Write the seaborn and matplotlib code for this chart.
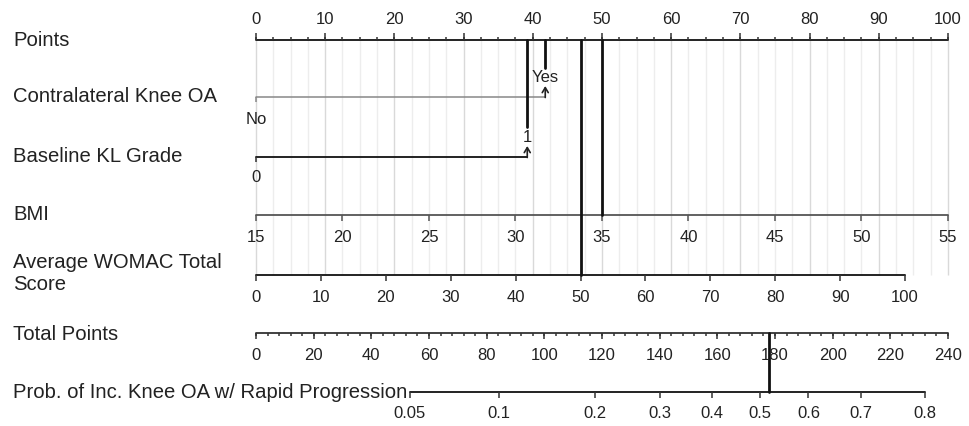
import numpy as np
import pandas as pd
import matplotlib
matplotlib.use("Agg")
import matplotlib.pyplot as plt
import seaborn as sns

# Nomogram values
points_ticks = [0, 10, 20, 30, 40, 50, 60, 70, 80, 90, 100]
contra_levels = ["No", "Yes"]
contra_points = [0, 41.8]
kl_levels = ["0", "1"]
kl_points = [0, 39.2]
bmi_ticks = [15, 20, 25, 30, 35, 40, 45, 50, 55]
bmi_range = [15, 55]          # maps onto 0..100 points
womac_ticks = [0, 10, 20, 30, 40, 50, 60, 70, 80, 90, 100]
womac_max_points = 93.8       # points given to WOMAC = 100
total_ticks = [0, 20, 40, 60, 80, 100, 120, 140, 160, 180, 200, 220, 240]
prob_ticks = [0.05, 0.1, 0.2, 0.3, 0.4, 0.5, 0.6, 0.7, 0.8]
prob_at_total = [53.4, 84.2, 117.7, 140.1, 158.0, 174.8, 191.6, 209.8, 232.0]

# the example patient
patient = {"contra": "Yes", "kl": "1", "bmi": 35, "womac": 50}

sns.set_theme(style="white")
plt.rcParams["font.family"] = ["Liberation Sans", "DejaVu Sans"]

TXT = "#222222"
LAB_FS = 14.6
TICK_FS = 12

fig = plt.figure(figsize=(9.7, 4.26), dpi=100)
ax = fig.add_axes([0, 0, 1, 1])
# x axis in "points" units, y in picture rows
ax.set_xlim(-256 / 6.92, (970 - 256) / 6.92)
ax.set_ylim(426, 0)
ax.set_axis_off()

rows = {"points": 40, "contra": 97, "kl": 157, "bmi": 215, "womac": 275, "total": 333, "prob": 392}


def bmi_to_pts(v):
    return (np.asarray(v, float) - bmi_range[0]) / (bmi_range[1] - bmi_range[0]) * 100


def womac_to_pts(v):
    return np.asarray(v, float) / 100 * womac_max_points


def total_to_x(v):
    return np.asarray(v, float) / 240 * 100


def scale_line(x0, x1, y, color="#333333", lw=1.3):
    sns.lineplot(x=[x0, x1], y=[y, y], ax=ax, color=color, lw=lw, estimator=None, sort=False)


def ticks(xs, y, length, up=False, color="#333333", lw=1.1):
    y2 = y - length if up else y + length
    ax.vlines(xs, y, y2, color=color, lw=lw)


# grid lines
grid = np.arange(0, 100.1, 2.5)
for g in grid:
    c = "#d9d9d9" if g % 10 == 0 else "#ededed"
    ax.vlines(g, rows["points"], rows["womac"], color=c, lw=1.0, zorder=0)

# Points
y = rows["points"]
scale_line(0, 100, y, color="#222222", lw=1.4)
ticks(grid, y, 3, up=True)
ticks(points_ticks, y, 7, up=True)
for t in points_ticks:
    ax.text(t, 19, str(t), ha="center", va="center", fontsize=TICK_FS, color=TXT)

arrow = dict(arrowstyle="->,head_length=0.3,head_width=0.18", color="#222222", lw=1.2,
             shrinkA=0, shrinkB=0)

# Contralateral knee OA
y = rows["contra"]
scale_line(contra_points[0], contra_points[1], y, color="#888888", lw=1.1)
ticks([contra_points[0]], y, 5, color="#888888")
ax.annotate("", xy=(contra_points[1], y - 11), xytext=(contra_points[1], y + 0.5), arrowprops=arrow)
ax.text(contra_points[0], 119, contra_levels[0], ha="center", va="center", fontsize=TICK_FS, color=TXT)
ax.text(contra_points[1], 78, contra_levels[1], ha="center", va="center", fontsize=TICK_FS, color=TXT)

# Baseline KL grade
y = rows["kl"]
scale_line(kl_points[0], kl_points[1], y, color="#222222", lw=1.4)
ticks([kl_points[0]], y, 5)
ax.annotate("", xy=(kl_points[1], y - 11), xytext=(kl_points[1], y + 0.5), arrowprops=arrow)
ax.text(kl_points[0], 178, kl_levels[0], ha="center", va="center", fontsize=TICK_FS, color=TXT)
ax.text(kl_points[1], 137, kl_levels[1], ha="center", va="center", fontsize=TICK_FS, color=TXT)

# BMI
y = rows["bmi"]
bx = bmi_to_pts(bmi_ticks)
scale_line(bx[0], bx[-1], y, color="#555555", lw=1.3)
ticks(bx, y, 6, color="#555555")
for t, xx in zip(bmi_ticks, bx):
    ax.text(xx, 238, str(t), ha="center", va="center", fontsize=TICK_FS, color=TXT)

# WOMAC
y = rows["womac"]
wx = womac_to_pts(womac_ticks)
scale_line(wx[0], wx[-1], y, color="#222222", lw=1.4)
ticks(wx, y, 6)
for t, xx in zip(womac_ticks, wx):
    ax.text(xx, 297, str(t), ha="center", va="center", fontsize=TICK_FS, color=TXT)

# Total points
y = rows["total"]
tx = total_to_x(total_ticks)
scale_line(tx[0], tx[-1], y, color="#333333", lw=1.3)
ticks(total_to_x(np.arange(0, 241, 4)), y, 3)
ticks(tx, y, 6)
for t, xx in zip(total_ticks, tx):
    ax.text(xx, 355, str(t), ha="center", va="center", fontsize=TICK_FS, color=TXT)

# Probability
y = rows["prob"]
px = total_to_x(prob_at_total)
scale_line(px[0], px[-1], y, color="#222222", lw=1.4)
ticks(px, y, 6)
for t, xx in zip(prob_ticks, px):
    ax.text(xx, 413, str(t), ha="center", va="center", fontsize=TICK_FS, color=TXT)

# row labels
x_lab = -256 / 6.92 + 13 / 6.92
labels = [("Points", 40), ("Contralateral Knee OA", 97), ("Baseline KL Grade", 157), ("BMI", 215),
          ("Average WOMAC Total\nScore", 274), ("Total Points", 334), ("Prob. of Inc. Knee OA w/ Rapid Progression", 392)]
for s, yy in labels:
    ax.text(x_lab, yy, s, ha="left", va="center", fontsize=LAB_FS, color=TXT, linespacing=1.2)

# patient read-off lines
p_kl = kl_points[kl_levels.index(patient["kl"])]
p_contra = contra_points[contra_levels.index(patient["contra"])]
p_bmi = float(bmi_to_pts(patient["bmi"]))
p_womac = float(womac_to_pts(patient["womac"]))
total = p_kl + p_contra + p_bmi + p_womac

seg = pd.DataFrame({
    "x": [p_contra, p_contra, p_kl, p_kl, p_bmi, p_bmi, p_womac, p_womac,
          float(total_to_x(total)), float(total_to_x(total))],
    "y": [rows["points"], 68, rows["points"], 127, rows["points"], rows["bmi"],
          rows["points"], rows["womac"], rows["total"], rows["prob"]],
    "seg": [0, 0, 1, 1, 2, 2, 3, 3, 4, 4],
})
sns.lineplot(data=seg, x="x", y="y", units="seg", estimator=None, sort=False,
             color="#111111", lw=2.0, ax=ax, legend=False)

fig.savefig("out.png", dpi=100, facecolor="white")
